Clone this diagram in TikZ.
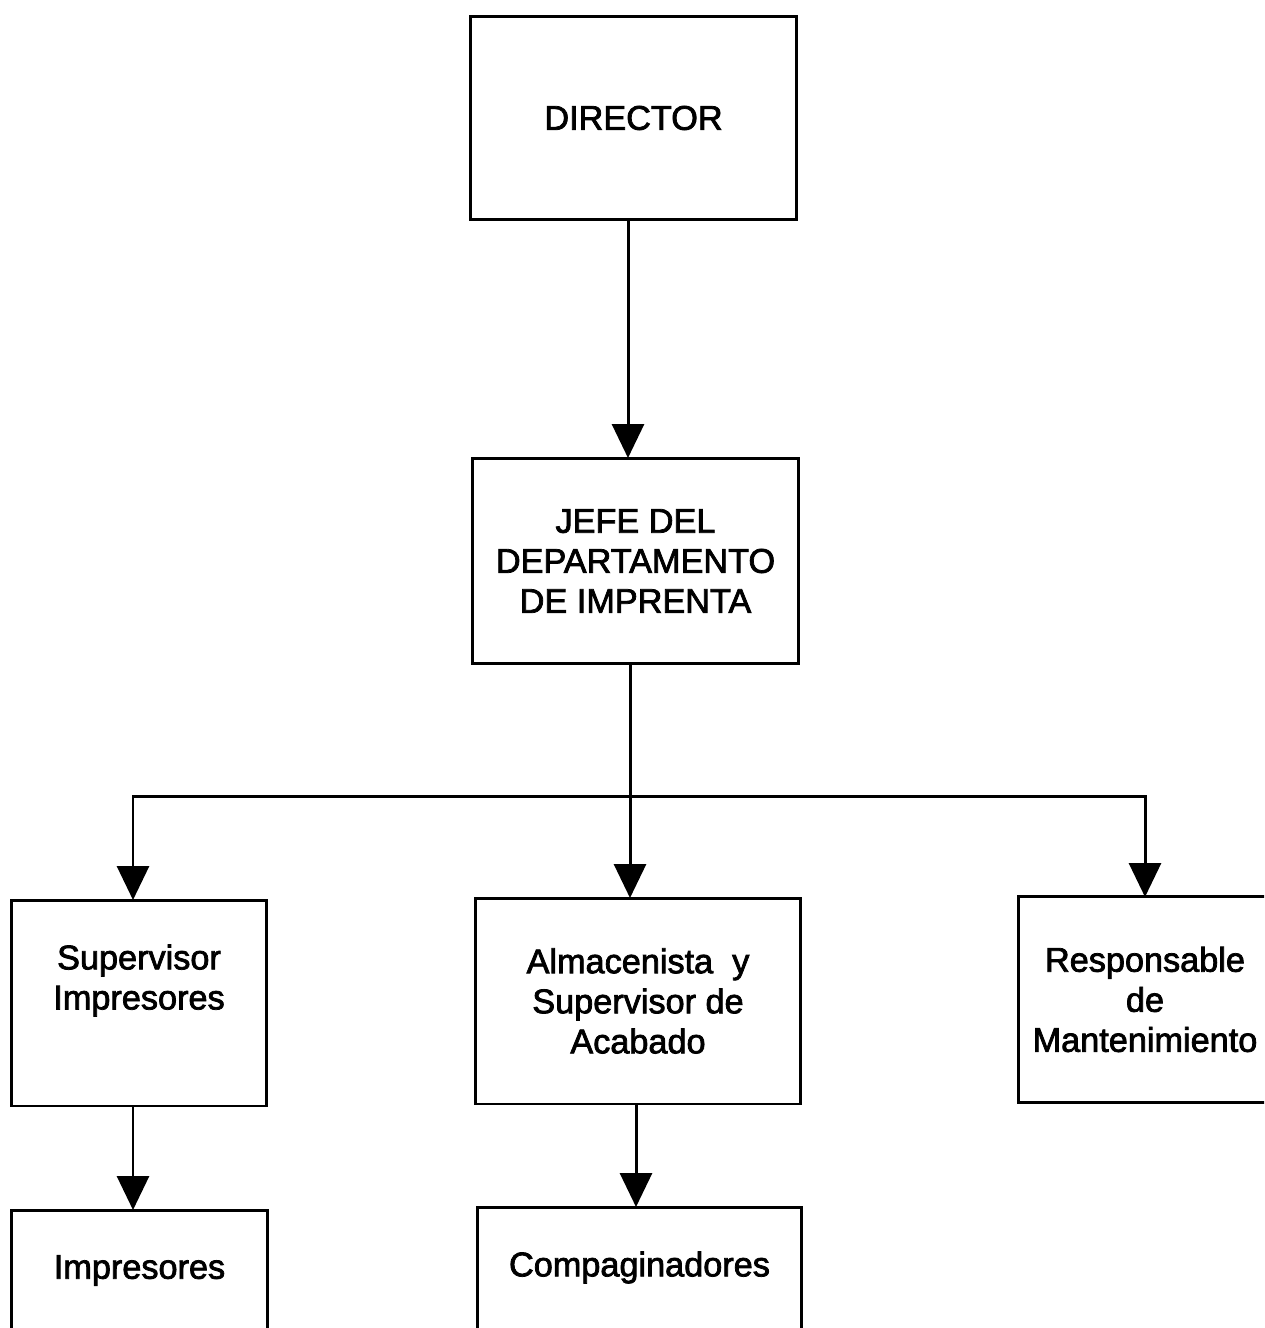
\documentclass[tikz,border=0pt]{standalone}
\usepackage{fontspec}
\setmainfont{Liberation Sans}[FakeBold=2.2,AutoFakeBold=2.2]
\usetikzlibrary{arrows.meta}

\tikzset{
  caja/.style={draw, line width=1.7pt, inner sep=0pt, align=center,
    minimum height=4.12cm, font=\fontsize{19.5}{22.8}\selectfont\bfseries},
  flecha/.style={line width=1.7pt, -{Triangle[width=0.64cm,length=0.68cm]}}
}

\begin{document}
\begin{tikzpicture}[x=0.02cm,y=-0.02cm]
			\useasboundingbox (0,0) rectangle (1264,1328);
			\clip (0,0) rectangle (1264,1328);

			\node (dir)[caja, minimum width=6.54cm, minimum height=4.08cm] at (633.5,118) {DIRECTOR};
			\node (jefe)[caja, minimum width=6.54cm] at (635.5,561) {JEFE DEL\\DEPARTAMENTO\\DE IMPRENTA};
			\node (sup)[caja, minimum width=5.12cm] at (139,1003) {Supervisor\\Impresores\\\strut};
			\node (alm)[caja, minimum width=6.52cm] at (638,1001) {Almacenista\ \ y\\Supervisor de\\Acabado};
			\node (resp)[caja, minimum width=5.08cm] at (1145,999.5) {Responsable\\de\\Mantenimiento};
			\node (imp)[caja, minimum width=5.14cm] at (139.5,1313) {Impresores\\\strut\\\strut};
			\node (comp)[caja, minimum width=6.5cm] at (639.5,1310) {Compaginadores\\\strut\\\strut};

			\coordinate (rama) at (630,796);

			\draw[flecha] (628,220) -- (628,458);
			\draw[line width=1.7pt] (630,664) -- (rama);
			\draw[flecha] (rama) -| (133,900);
			\draw[flecha] (rama) -- (630,898);
			\draw[flecha] (rama) -| (1145,897);
			\draw[flecha] (133,1106) -- (133,1210);
			\draw[flecha] (636,1104) -- (636,1207);
		\end{tikzpicture}
\end{document}
